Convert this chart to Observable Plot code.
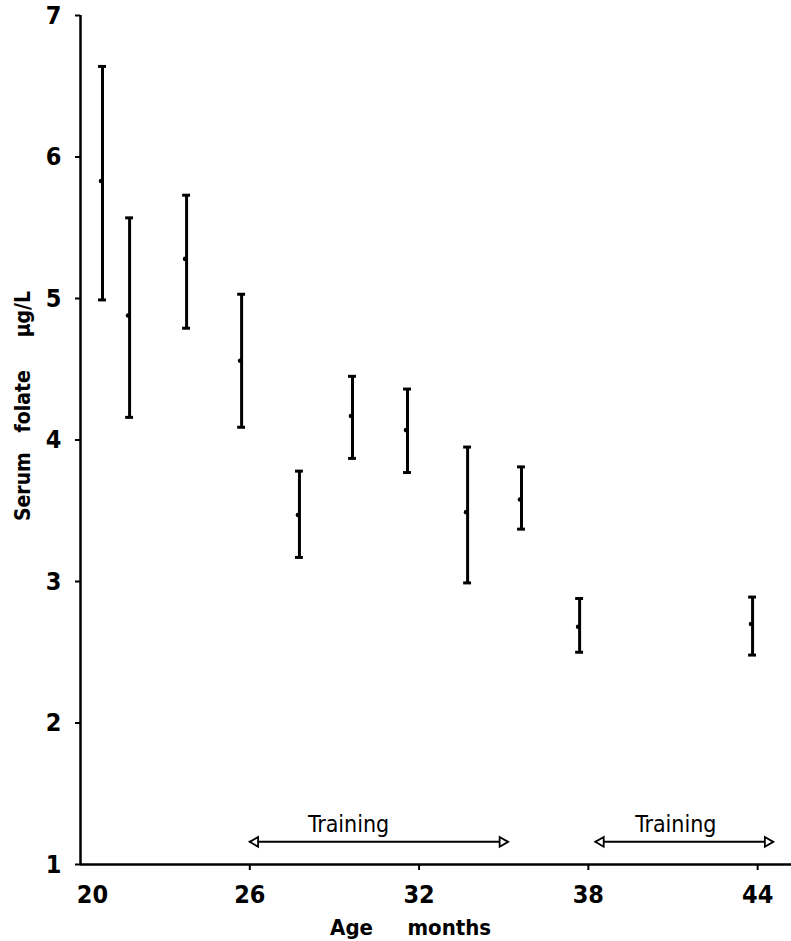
<!DOCTYPE html>
<html>
<head>
<meta charset="utf-8">
<script src="https://cdn.jsdelivr.net/npm/d3@7"></script>
<script src="https://cdn.jsdelivr.net/npm/@observablehq/plot@0.6"></script>
<style>
  html, body { margin: 0; padding: 0; background: #fff; }
</style>
</head>
<body>
<div id="chart"></div>
<script>
// Age (months) of each measurement group
const ages  = [20.78, 21.74, 23.76, 25.71, 27.76, 29.64, 31.59, 33.72, 35.63, 37.69, 43.82];
// Serum folate (µg/L): mean, upper and lower limit of each bar
const means = [5.83, 4.88, 5.28, 4.56, 3.47, 4.17, 4.07, 3.49, 3.58, 2.68, 2.70];
const upper = [6.64, 5.57, 5.73, 5.03, 3.78, 4.45, 4.36, 3.95, 3.81, 2.88, 2.89];
const lower = [4.99, 4.16, 4.79, 4.09, 3.17, 3.87, 3.77, 2.99, 3.37, 2.50, 2.48];

const xTicks = [26, 32, 38, 44];
const xFirstTick = [20];
const yTicks = [1, 2, 3, 4, 5, 6, 7];

// Training periods
const trainingStart = [26, 38.25];
const trainingEnd   = [35.15, 44.55];
const trainingLabelX = [29.5, 41.1];
const trainingLabels = ["Training", "Training"];
const trainingLevel = 1.16;
const trainingTextLevel = 1.28;

const xLabel = "Age\u00a0\u00a0\u00a0\u00a0\u00a0months";
const yLabel = "Serum\u00a0\u00a0\u00a0folate\u00a0\u00a0\u00a0\u00a0\u00a0μg/L";

const data = ages.map((a, i) => ({age: a, mean: means[i], hi: upper[i], lo: lower[i]}));
const training = trainingStart.map((s, i) => ({start: s, end: trainingEnd[i], lx: trainingLabelX[i], label: trainingLabels[i]}));

const FONT = "'DejaVu Sans Condensed', 'DejaVu Sans', sans-serif";
const capHalf = 0.14;

const chart = Plot.plot({
  width: 791,
  height: 941,
  marginLeft: 80,
  marginRight: 0,
  marginTop: 15,
  marginBottom: 77,
  style: {fontFamily: FONT, color: "#000", background: "#fff"},
  x: {domain: [20, 45.2]},
  y: {domain: [1, 7]},
  marks: [
    // axes lines
    Plot.ruleX([20], {y1: 1, y2: 7, stroke: "#000", strokeWidth: 2.5}),
    Plot.ruleY([1], {stroke: "#000", strokeWidth: 2.5}),
    Plot.axisY({ticks: yTicks, tickFormat: d3.format("d"), tickSize: 5, tickPadding: 14, fontSize: 25, fontWeight: "bold", strokeWidth: 2, label: null}),
    Plot.axisX({ticks: xTicks, tickFormat: d3.format("d"), tickSize: 6, tickPadding: 15, fontSize: 25, fontWeight: "bold", strokeWidth: 2, label: null}),
    Plot.axisX({ticks: xFirstTick, tickFormat: d3.format("d"), tickSize: 0, tickPadding: 21, dx: 12, fontSize: 25, fontWeight: "bold", label: null}),
    // error bars
    Plot.ruleX(data, {x: "age", y1: "lo", y2: "hi", stroke: "#000", strokeWidth: 3}),
    Plot.ruleY(data, {y: "hi", x1: d => d.age - capHalf, x2: d => d.age + capHalf, stroke: "#000", strokeWidth: 3}),
    Plot.ruleY(data, {y: "lo", x1: d => d.age - capHalf, x2: d => d.age + capHalf, stroke: "#000", strokeWidth: 3}),
    Plot.dot(data, {x: "age", y: "mean", r: 2.3, fill: "#000", dx: -1.5}),
    // training arrows
    Plot.ruleY(training, {y: trainingLevel, x1: "start", x2: "end", stroke: "#000", strokeWidth: 2}),
    Plot.dot(training, {x: "end", y: trainingLevel, symbol: "triangle", rotate: 90, r: 3.6, fill: "#fff", stroke: "#000", strokeWidth: 1.8, dx: -5.5}),
    Plot.dot(training, {x: "start", y: trainingLevel, symbol: "triangle", rotate: -90, r: 3.6, fill: "#fff", stroke: "#000", strokeWidth: 1.8, dx: 5.5}),
    Plot.text(training, {x: "lx", y: trainingTextLevel, text: "label", fontSize: 23, fontFamily: FONT, lineAnchor: "middle", fill: "#000"}),
    // axis titles
    Plot.text([xLabel], {x: 31.7, frameAnchor: "bottom", dy: 63, text: d => d, fontSize: 22, fontWeight: "bold", textAnchor: "middle", lineAnchor: "middle", fill: "#000"}),
    Plot.text([yLabel], {y: 4.24, frameAnchor: "left", dx: -57, rotate: -90, text: d => d, fontSize: 21, fontWeight: "bold", textAnchor: "middle", lineAnchor: "middle", fill: "#000"})
  ]
});
document.getElementById("chart").appendChild(chart);
</script>
</body>
</html>
